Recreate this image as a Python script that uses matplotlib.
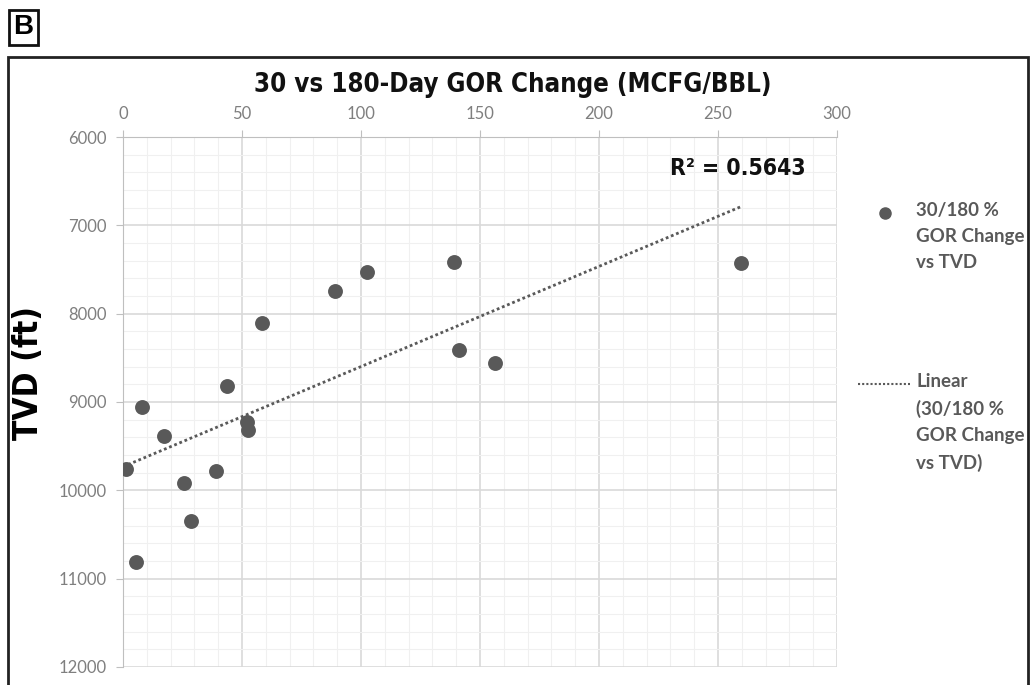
import matplotlib.pyplot as plt
import numpy as np
from matplotlib.lines import Line2D
from matplotlib.patches import Rectangle
from matplotlib.ticker import MultipleLocator

# 30 vs 180-day GOR change (MCFG/BBL) against true vertical depth (ft)
gor_change = [102.5, 89, 58.5, 43.7, 7.8, 17.1, 52.1, 52.4, 1.3, 39, 25.6,
              28.4, 5.5, 139, 259.7, 141.3, 156.3]
tvd = [7529, 7744, 8106, 8820, 9057, 9386, 9228, 9318, 9760, 9783, 9918,
       10349, 10813, 7416, 7430, 8412, 8560]
r2_label = "R² = 0.5643"
x_ticks = [0, 50, 100, 150, 200, 250, 300]
y_ticks = [6000, 7000, 8000, 9000, 10000, 11000, 12000]
legend_labels = ["30/180 %\nGOR Change\nvs TVD", "Linear\n(30/180 %\nGOR Change\nvs TVD)"]

gray = "#595959"
tick_gray = "#7f7f7f"
narrow = dict(family="DejaVu Sans", fontstretch="condensed")
plt.rcParams["font.family"] = ["Lato", "DejaVu Sans"]

fig = plt.figure(figsize=(10.34, 6.85), dpi=100)
ax = fig.add_axes([0.119, 0.0263, 0.6905, 0.7737])

x = np.array(gor_change)
y = np.array(tvd)
ax.scatter(x, y, s=115, color=gray, zorder=3, linewidths=0)

# linear trendline
slope, intercept = np.polyfit(x, y, 1)
xs = np.array([0, x.max()])
ax.plot(xs, slope * xs + intercept, color=gray, linestyle=(0, (1, 1)),
        linewidth=2, zorder=2)

ax.set_xlim(x_ticks[0], x_ticks[-1])
ax.set_ylim(y_ticks[-1], y_ticks[0])
ax.set_xticks(x_ticks)
ax.set_yticks(y_ticks)
ax.xaxis.set_minor_locator(MultipleLocator(10))
ax.yaxis.set_minor_locator(MultipleLocator(200))
ax.xaxis.tick_top()
ax.grid(which="major", color="#d9d9d9", linewidth=1.2)
ax.grid(which="minor", color="#f0f0f0", linewidth=0.8)
ax.set_axisbelow(True)
ax.tick_params(which="major", length=5, color="#bfbfbf", labelcolor=tick_gray,
               labelsize=12)
ax.tick_params(axis="y", pad=7)
ax.tick_params(axis="x", pad=6)
ax.tick_params(which="minor", length=0)
for side in ["right", "bottom"]:
    ax.spines[side].set_visible(False)
for side in ["left", "top"]:
    ax.spines[side].set_color("#bfbfbf")

ax.set_ylabel("TVD (ft)", fontsize=24, fontweight="bold", **narrow)
ax.yaxis.set_label_coords(-0.109, 0.555)
ax.text(0.766, 0.94, r2_label, transform=ax.transAxes, fontsize=16.5,
        fontweight="bold", va="center", ha="left", color="#111111", **narrow)
fig.text(0.496, 0.876, "30 vs 180-Day GOR Change (MCFG/BBL)", fontsize=18.5,
         fontweight="bold", ha="center", va="center", color="#111111", **narrow)

# legend, handles level with the first line of each label
fig.add_artist(Line2D([885 / 1034], [1 - 213 / 685], marker="o", color=gray,
                      markersize=8, linestyle="none"))
fig.add_artist(Line2D([858 / 1034, 910 / 1034], [1 - 384 / 685] * 2, color=gray,
                      linestyle=(0, (1, 1)), linewidth=1.5))
for label, top in zip(legend_labels, [202, 373]):
    fig.text(916 / 1034, 1 - top / 685, label, fontsize=13.5, weight="bold",
             color=gray, va="top", ha="left", linespacing=1.65)

# panel frame and "B" tag
fig.add_artist(Rectangle((8 / 1034, -0.05), 1020 / 1034, 1 - 57 / 685 + 0.05,
                         transform=fig.transFigure, fill=False,
                         edgecolor="#222222", linewidth=2))
fig.add_artist(Rectangle((9 / 1034, 1 - 45 / 685), 29 / 1034, 35 / 685,
                         transform=fig.transFigure, fill=False,
                         edgecolor="#111111", linewidth=2))
fig.text(23.5 / 1034, 1 - 27 / 685, "B", fontsize=20, weight="bold",
         ha="center", va="center", family=["Liberation Sans", "DejaVu Sans"])

fig.savefig("out.png", dpi=100)
